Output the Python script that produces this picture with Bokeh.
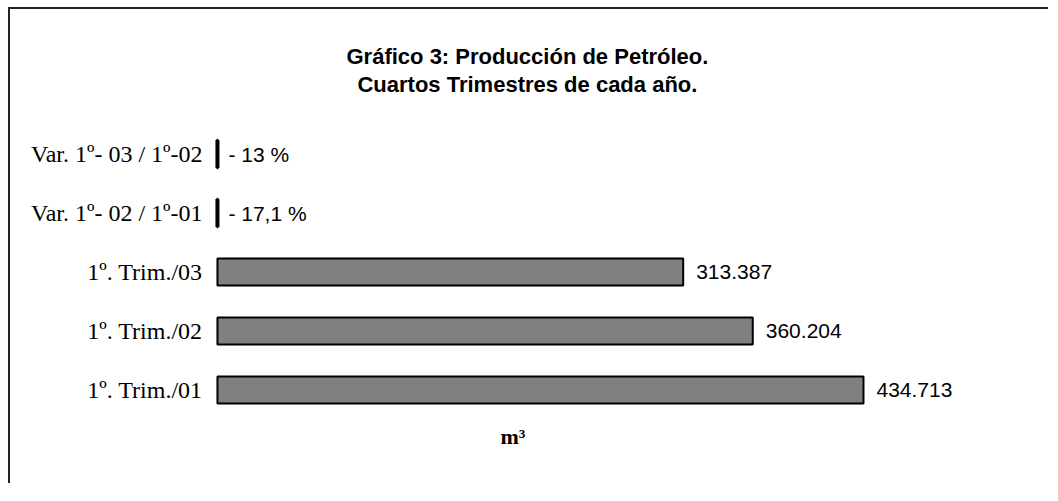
from bokeh.plotting import figure
from bokeh.models import Range1d, FactorRange, Title
from bokeh.core.properties import value
from bokeh.embed import file_html
from bokeh.resources import INLINE

# ---- data (bottom to top) ----
categories = ["1º. Trim./01", "1º. Trim./02", "1º. Trim./03",
              "Var. 1º- 02 / 1º-01", "Var. 1º- 03 / 1º-02"]
production_cats = ["1º. Trim./01", "1º. Trim./02", "1º. Trim./03"]
production = [434713, 360204, 313387]          # m3
variation_cats = ["Var. 1º- 02 / 1º-01", "Var. 1º- 03 / 1º-02"]
variation = [-17.1, -13.0]                     # %

title_line1 = "Gráfico 3: Producción de Petróleo."
title_line2 = "Cuartos Trimestres de cada año."
unit_label = "m³"

production_labels = [f"{v:,}".replace(",", ".") for v in production]
variation_labels = ["- " + f"{abs(v):g}".replace(".", ",") + " %" for v in variation]

p = figure(width=1040, height=476, output_backend="svg", toolbar_location=None, title=None,
           y_range=FactorRange(*categories), x_range=Range1d(-6700, 537000),
           min_border_left=197, min_border_right=35, min_border_top=115, min_border_bottom=66)
p.styles = {"margin-left": "8px", "margin-top": "7px",
            "border-top": "2px solid #222222", "border-left": "2px solid #222222"}
p.outline_line_color = None
p.xgrid.visible = False
p.ygrid.visible = False
p.xaxis.visible = False
p.yaxis.axis_line_color = None
p.yaxis.major_tick_line_color = None
p.yaxis.major_tick_out = 0
p.yaxis.major_label_standoff = 5
p.yaxis.major_label_text_font = "Liberation Serif"
p.yaxis.major_label_text_font_size = "24px"
p.yaxis.major_label_text_color = "black"

p.hbar(y=production_cats, left=0, right=production, height=0.46,
       fill_color="#808080", line_color="black", line_width=2)
p.hbar(y=variation_cats, left=0, right=variation, height=0.46,
       fill_color="black", line_color="black", line_width=4)

p.text(x=production, y=production_cats, text=production_labels, x_offset=13,
       text_baseline="middle", text_align="left", text_font=value("Liberation Sans"),
       text_font_size="21px", text_color="black")
p.text(x=variation, y=variation_cats, text=variation_labels, x_offset=11,
       text_baseline="middle", text_align="left", text_font=value("Liberation Sans"),
       text_font_size="21px", text_color="black")

# two-line title
p.add_layout(Title(text=title_line1 + "\n" + title_line2, align="left", offset=139,
                   standoff=56, text_align="center", text_line_height=1.1,
                   text_font="Liberation Sans", text_font_style="bold",
                   text_font_size="22px", text_color="black"), "above")
# unit label under the bars
p.add_layout(Title(text=unit_label, align="left", offset=293, standoff=4,
                   text_font="Liberation Serif", text_font_style="bold",
                   text_font_size="22px", text_color="black"), "below")

open("out.html", "w").write(file_html(p, INLINE))
